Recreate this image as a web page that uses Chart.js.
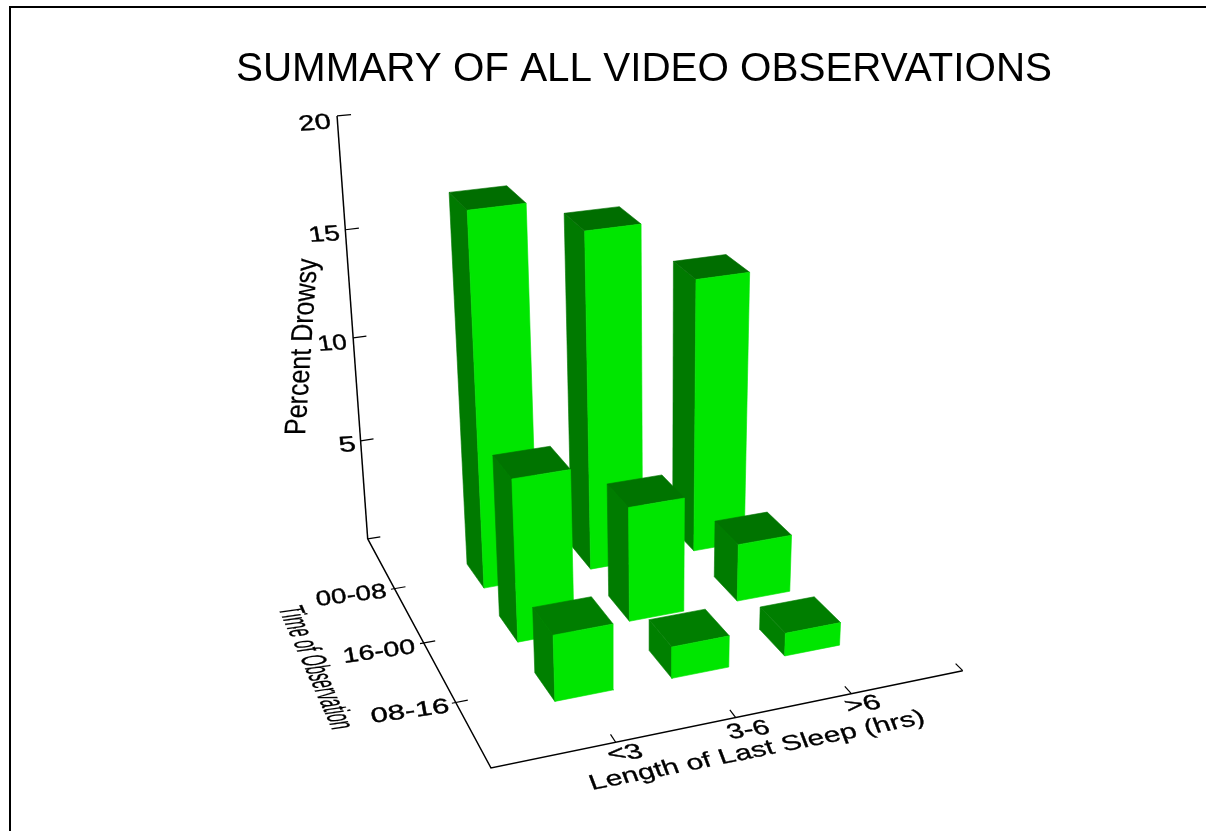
<!DOCTYPE html>
<html>
<head>
<meta charset="utf-8">
<title>Summary of all video observations</title>
<script src="https://cdn.jsdelivr.net/npm/chart.js@4"></script>
<style>
	html, body { margin: 0; padding: 0; background: #fff; }
	canvas { display: block; }
</style>
</head>
<body>
<canvas id="myChart" width="1206" height="831"></canvas>
<script>
const sleepLabels = ["<3", "3-6", ">6"];
const timeLabels = ["08-16", "16-00", "00-08"];
const percent0816 = [3.1, 1.5, 1.1];
const percent1600 = [7.7, 5.5, 2.8];
const percent0008 = [17.5, 16.0, 13.2];
const percentTicks = [5, 10, 15, 20];
const percentMax = 20;

const faceColor = "#00e600";
const topColors = ["#007e00", "#007400", "#006e00"];
const sideColors = ["#008000", "#007c00", "#007a00"];

const barHalfU = 0.0625;
const barHalfV = 0.06;
const barShiftU = -0.001;
const barShiftV = -0.0065;
const barSkew = 0.004;

// floor position u (sleep), v (time, 0 at the front) and a percent height, to canvas units
function project(u, v, pct) {
	const t = pct / percentMax;
	const w = 1 + 0.078 * u + 0.202 * v - 0.1135 * t;
	return {
		x: (491 + 546.8 * u - 49.0 * v - 75.1 * t - 13 * u * v) / w,
		y: (768 - 45.0 * u - 120.2 * v - 521.6 * t + 3 * u * v) / w
	};
}

function polygon(points, color) {
	return {
		data: points.concat([points[0]]),
		showLine: true,
		fill: "shape",
		backgroundColor: color,
		borderColor: color,
		borderWidth: 0.6,
		pointRadius: 0,
		tension: 0
	};
}

function axisLine(points, width) {
	return {
		data: points,
		showLine: true,
		fill: false,
		borderColor: "#000",
		borderWidth: width,
		pointRadius: 0,
		tension: 0
	};
}

// back row first, right bar first, so nearer bars cover farther ones
function barFaces() {
	const rows = [percent0816, percent1600, percent0008];
	const faces = [];
	for (let j = rows.length - 1; j >= 0; j--) {
		for (let i = rows[j].length - 1; i >= 0; i--) {
			const h = rows[j][i];
			const u0 = (i + 1) / 4 + barShiftU - barHalfU, u1 = (i + 1) / 4 + barShiftU + barHalfU;
			const v0 = (j + 1) / 4 + barShiftV - barHalfV, v1 = (j + 1) / 4 + barShiftV + barHalfV;
			// the rear edge sits a little to the left of the front edge
			const fl = z => project(u0, v0, z), fr = z => project(u1, v0, z);
			const bl = z => project(u0 - barSkew, v1, z), br = z => project(u1 - barSkew, v1, z);
			faces.push(polygon([fl(0), bl(0), bl(h), fl(h)], sideColors[j]));
			faces.push(polygon([fl(h), bl(h), br(h), fr(h)], topColors[j]));
			faces.push(polygon([fl(0), fr(0), fr(h), fl(h)], faceColor));
		}
	}
	return faces;
}

function axes() {
	const lines = [
		axisLine([project(0, 1, 0), project(0, 1, percentMax)], 1.5),
		axisLine([project(0, 1, 0), project(0, 0, 0), project(1, 0, 0)], 1.5)
	];
	[0].concat(percentTicks).forEach(p => {
		lines.push(axisLine([project(0, 1, p), project(0.03, 1, p)], 1.2));
	});
	timeLabels.forEach((_, j) => {
		const v = (j + 1) / 4;
		lines.push(axisLine([project(-0.008, v, 0), project(0.025, v, 0)], 1.2));
	});
	[0.25, 0.5, 0.75, 1].forEach(u => {
		lines.push(axisLine([project(u, 0, 0), project(u, 0.03, 0)], 1.2));
	});
	return lines;
}

// text with its own baseline and letter-up directions, stretched to a set width
function drawLabel(ctx, text, x, y, baseDeg, upDeg, size, width, weight) {
	ctx.save();
	ctx.font = size + 'px "Liberation Sans", Arial, sans-serif';
	const sx = width / ctx.measureText(text).width;
	const b = baseDeg * Math.PI / 180, up = upDeg * Math.PI / 180;
	ctx.transform(Math.cos(b) * sx, Math.sin(b) * sx, -Math.cos(up), -Math.sin(up), x, y);
	ctx.textBaseline = "alphabetic";
	ctx.textAlign = "left";
	ctx.fillStyle = "#000";
	ctx.fillText(text, 0, 0);
	if (weight) {
		ctx.strokeStyle = "#000";
		ctx.lineWidth = weight;
		ctx.strokeText(text, 0, 0);
	}
	ctx.restore();
}

const labelsPlugin = {
	id: "labels",
	beforeDatasetsDraw(chart) {
		const ctx = chart.ctx;
		ctx.save();
		ctx.fillStyle = "#000";
		ctx.fillRect(9, 6, 1197, 2);
		ctx.fillRect(9, 6, 2, 825);
		ctx.restore();
	},
	afterDatasetsDraw(chart) {
		const ctx = chart.ctx;
		drawLabel(ctx, "SUMMARY OF ALL VIDEO OBSERVATIONS", 236, 81, 0, -90, 40, 816);

		drawLabel(ctx, String(percentTicks[3]), 300, 131, -5, -100, 22, 32, 0.4);
		drawLabel(ctx, String(percentTicks[2]), 310, 242, -4, -100, 22, 31, 0.4);
		drawLabel(ctx, String(percentTicks[1]), 319, 351, -4, -100, 22, 29, 0.4);
		drawLabel(ctx, String(percentTicks[0]), 340, 452, -4, -100, 22, 17, 0.4);
		drawLabel(ctx, "Percent Drowsy", 305, 435, -86, -180, 30, 177, 0.2);

		drawLabel(ctx, timeLabels[2], 317, 606, -7, -100, 21, 71, 0.4);
		drawLabel(ctx, timeLabels[1], 344, 663, -8, -100, 21, 73, 0.4);
		drawLabel(ctx, timeLabels[0], 372, 723, -8, -100, 21, 79, 0.4);
		drawLabel(ctx, "Time of Observation", 278, 608, 66, -8, 35, 134, 0.3);

		drawLabel(ctx, sleepLabels[0], 610, 761, -6, -112, 22, 35, 0.4);
		drawLabel(ctx, sleepLabels[1], 730, 739, -8, -112, 22, 42, 0.4);
		drawLabel(ctx, sleepLabels[2], 848, 713, -8, -112, 22, 35, 0.4);
		drawLabel(ctx, "Length of Last Sleep (hrs)", 592, 790, -11.3, -111, 22, 341, 0.3);
	}
};

new Chart(document.getElementById("myChart").getContext("2d"), {
	type: "scatter",
	data: {
		datasets: axes().concat(barFaces()).reverse()
	},
	options: {
		responsive: false,
		animation: false,
		events: [],
		layout: { padding: 0 },
		plugins: {
			legend: { display: false },
			tooltip: { enabled: false },
			title: { display: false }
		},
		scales: {
			x: { type: "linear", min: 0, max: 1206, display: false },
			y: { type: "linear", min: 0, max: 831, reverse: true, display: false }
		}
	},
	plugins: [labelsPlugin]
});
</script>
</body>
</html>
